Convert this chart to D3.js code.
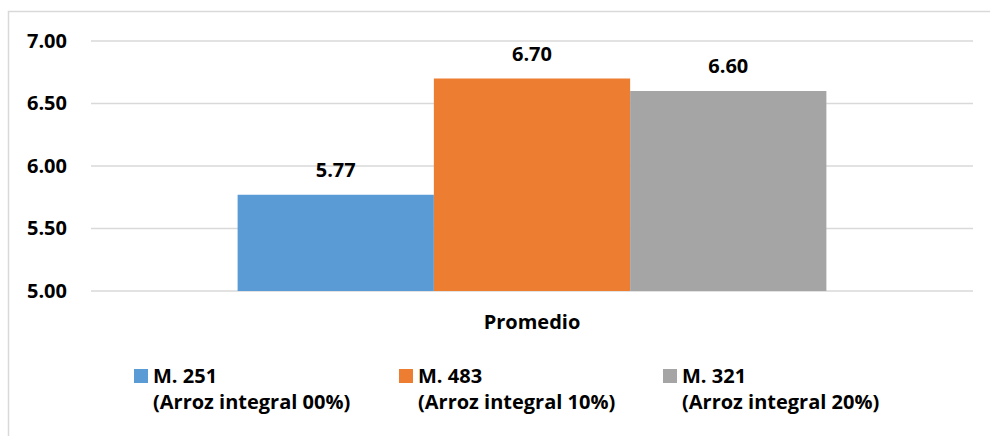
<!DOCTYPE html>
<html>
<head>
<meta charset="utf-8">
<script src="https://cdn.jsdelivr.net/npm/d3@7"></script>
<style>
  html, body { margin: 0; padding: 0; background: #fff; }
  svg { display: block; font-family: "Open Sans", Lato, sans-serif; font-weight: bold; }
</style>
</head>
<body>
<svg id="chart" width="990" height="436"></svg>
<script>
// Chart data
const categories = ["Promedio"];
const seriesNames = ["M. 251", "M. 483", "M. 321"];
const seriesSubtitles = ["(Arroz integral 00%)", "(Arroz integral 10%)", "(Arroz integral 20%)"];
const seriesValues = [5.77, 6.70, 6.60];
const seriesColors = ["#5b9bd5", "#ed7d31", "#a5a5a5"];
const yTicks = [5.00, 5.50, 6.00, 6.50, 7.00];

const FONT = "'Open Sans', Lato, sans-serif";
const FS = 20;
const svg = d3.select("#chart");

// Outer chart frame
svg.append("rect")
  .attr("x", 8.5).attr("y", 11.5)
  .attr("width", 990).attr("height", 440)
  .attr("fill", "none").attr("stroke", "#d9d9d9").attr("stroke-width", 1.5);

const plot = { left: 91, right: 973, top: 41, bottom: 291 };

const y = d3.scaleLinear().domain([5, 7]).range([plot.bottom, plot.top]);
const x0 = d3.scaleBand().domain(categories).range([plot.left, plot.right]).paddingInner(0).paddingOuter(0.249);
const x1 = d3.scaleBand().domain(seriesNames).range([0, x0.bandwidth()]).padding(0);

// Gridlines
svg.append("g")
  .selectAll("line")
  .data(yTicks)
  .join("line")
  .attr("x1", plot.left).attr("x2", plot.right)
  .attr("y1", d => y(d)).attr("y2", d => y(d))
  .attr("stroke", "#d9d9d9").attr("stroke-width", 1.5);

// Y axis labels
const yAxis = d3.axisLeft(y).tickValues(yTicks).tickFormat(d3.format(".2f")).tickSize(0).tickPadding(0);
const yg = svg.append("g").attr("transform", `translate(${67},0)`).call(yAxis);
yg.select(".domain").remove();
yg.selectAll("text")
  .attr("font-family", FONT)
  .attr("font-weight", "bold")
  .attr("font-size", FS)
  .attr("fill", "#000");

// Bars
const groups = svg.append("g")
  .selectAll("g")
  .data(categories)
  .join("g")
  .attr("transform", d => `translate(${x0(d)},0)`);

const barData = seriesNames.map((name, i) => ({ name, value: seriesValues[i], color: seriesColors[i] }));

groups.selectAll("rect")
  .data(barData)
  .join("rect")
  .attr("x", d => x1(d.name))
  .attr("width", x1.bandwidth())
  .attr("y", d => y(d.value))
  .attr("height", d => y(5) - y(d.value))
  .attr("fill", d => d.color);

// Value labels
groups.selectAll("text")
  .data(barData)
  .join("text")
  .attr("x", d => x1(d.name) + x1.bandwidth() / 2)
  .attr("y", d => y(d.value) - 18)
  .attr("text-anchor", "middle")
  .attr("font-size", FS)
  .attr("fill", "#000")
  .text(d => d3.format(".2f")(d.value));

// Category label
svg.append("g")
  .selectAll("text")
  .data(categories)
  .join("text")
  .attr("x", d => x0(d) + x0.bandwidth() / 2)
  .attr("y", 329)
  .attr("text-anchor", "middle")
  .attr("font-size", FS)
  .attr("fill", "#000")
  .text(d => d);

// Legend
const legendX = [134, 399, 663];
const legend = svg.append("g")
  .selectAll("g")
  .data(barData)
  .join("g")
  .attr("transform", (d, i) => `translate(${legendX[i]},0)`);

legend.append("rect")
  .attr("x", 0).attr("y", 369)
  .attr("width", 14).attr("height", 14)
  .attr("fill", d => d.color);

legend.append("text")
  .attr("x", 19).attr("y", 383)
  .attr("font-size", FS)
  .attr("fill", "#000")
  .text(d => d.name);

legend.append("text")
  .attr("x", 19).attr("y", 409)
  .attr("font-size", FS)
  .attr("fill", "#000")
  .text((d, i) => seriesSubtitles[i]);
</script>
</body>
</html>
